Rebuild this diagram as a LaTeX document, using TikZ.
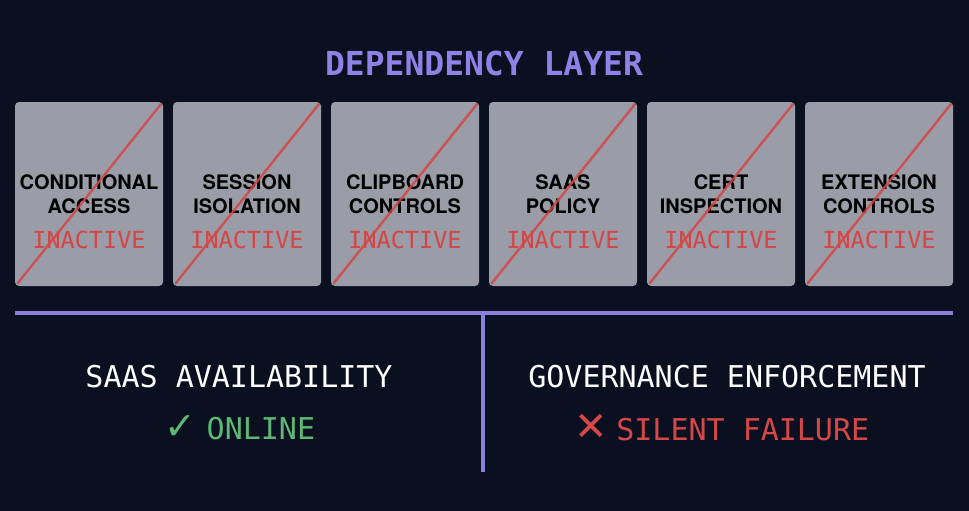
\documentclass[tikz,border=0pt]{standalone}
\usepackage{fontspec}
\setmainfont{TeX Gyre Heros}
\setmonofont{DejaVu Sans Mono}
\newfontfamily\symfont{DejaVu Sans}
\usepackage{tikz}
\usetikzlibrary{positioning}
\definecolor{bgnavy}{HTML}{0A1020}
\definecolor{boxgray}{HTML}{9A9CA7}
\definecolor{layerviolet}{HTML}{8F82E6}
\definecolor{dividerviolet}{HTML}{8A7ED8}
\definecolor{strikered}{HTML}{D54545}
\definecolor{onlinegreen}{HTML}{5CB874}
\definecolor{failred}{HTML}{D64848}
\tikzset{
  ctrlbox/.style={rectangle,rounded corners=4pt,fill=boxgray,
    minimum width=148pt,minimum height=184pt,inner sep=0pt,align=center,
    text=black,font=\fontsize{20}{23.5}\selectfont\bfseries},
  statelabel/.style={inner sep=0pt,text=strikered,
    font=\fontsize{23.5}{26}\selectfont\ttfamily},
  strikeedge/.style={line width=2.4pt,strikered,opacity=0.85,line cap=round},
  dividerline/.style={line width=3.2pt,dividerviolet},
  titlelabel/.style={text=layerviolet,font=\fontsize{33}{36}\selectfont\ttfamily\bfseries},
  headlabel/.style={text=white,font=\fontsize{30}{32}\selectfont\ttfamily},
  okstate/.style={text=onlinegreen,font=\fontsize{30}{32}\selectfont\ttfamily},
  badstate/.style={text=failred,font=\fontsize{30}{32}\selectfont\ttfamily}
}

\begin{document}
\begin{tikzpicture}[x=1pt,y=-1pt]
  \fill[bgnavy] (0,0) rectangle (969,511);
  \useasboundingbox (0,0) rectangle (969,511);

  \node[titlelabel] (layer) at (484,63) {DEPENDENCY LAYER};

  % dependency controls
  \node[ctrlbox] (c1) at (89,194) {CONDITIONAL\\ACCESS};
  \node[ctrlbox] (c2) at (247,194) {SESSION\\ISOLATION};
  \node[ctrlbox] (c3) at (405,194) {CLIPBOARD\\CONTROLS};
  \node[ctrlbox] (c4) at (563,194) {SAAS\\POLICY};
  \node[ctrlbox] (c5) at (721,194) {CERT\\INSPECTION};
  \node[ctrlbox] (c6) at (879,194) {EXTENSION\\CONTROLS};

  \node[statelabel] (s1) at ([yshift=-46pt]c1.center) {INACTIVE};
  \node[statelabel] (s2) at ([yshift=-46pt]c2.center) {INACTIVE};
  \node[statelabel] (s3) at ([yshift=-46pt]c3.center) {INACTIVE};
  \node[statelabel] (s4) at ([yshift=-46pt]c4.center) {INACTIVE};
  \node[statelabel] (s5) at ([yshift=-46pt]c5.center) {INACTIVE};
  \node[statelabel] (s6) at ([yshift=-46pt]c6.center) {INACTIVE};

  \draw[strikeedge] ([shift={(3pt,3pt)}]c1.south west)--([shift={(-2pt,-2pt)}]c1.north east);
  \draw[strikeedge] ([shift={(3pt,3pt)}]c2.south west)--([shift={(-2pt,-2pt)}]c2.north east);
  \draw[strikeedge] ([shift={(3pt,3pt)}]c3.south west)--([shift={(-2pt,-2pt)}]c3.north east);
  \draw[strikeedge] ([shift={(3pt,3pt)}]c4.south west)--([shift={(-2pt,-2pt)}]c4.north east);
  \draw[strikeedge] ([shift={(3pt,3pt)}]c5.south west)--([shift={(-2pt,-2pt)}]c5.north east);
  \draw[strikeedge] ([shift={(3pt,3pt)}]c6.south west)--([shift={(-2pt,-2pt)}]c6.north east);

  % split between the two outcomes
  \coordinate (railL) at (15,313);
  \coordinate (railR) at (953,313);
  \coordinate (splitT) at (483,313);
  \coordinate (splitB) at (483,472);
  \draw[dividerline] (railL)--(railR);
  \draw[dividerline] (splitT)--(splitB);

  \node[headlabel] (avail) at (239,377) {SAAS AVAILABILITY};
  \node[okstate] (online) at (240,428) {{\symfont\bfseries\fontsize{38}{38}\selectfont ✓}\hspace{10pt}ONLINE};
  \node[headlabel] (govern) at (727,377) {GOVERNANCE ENFORCEMENT};
  \node[badstate] (silent) at (722,428) {{\symfont\bfseries\fontsize{40}{40}\selectfont ✕}\hspace{8pt}SILENT FAILURE};
\end{tikzpicture}
\end{document}
